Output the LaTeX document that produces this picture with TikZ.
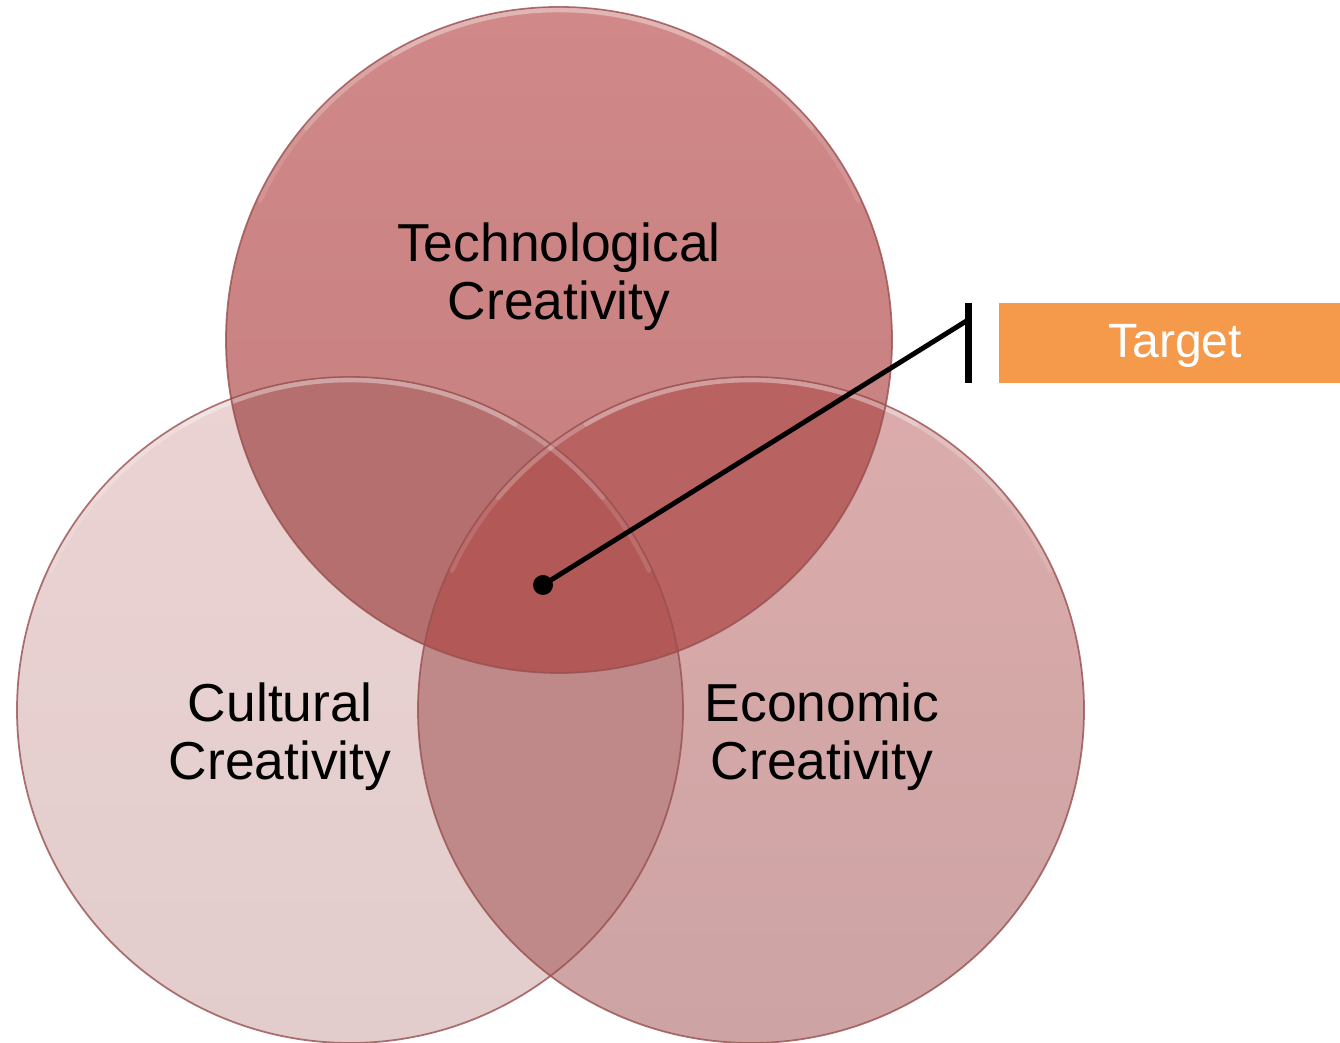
\documentclass[tikz,border=0pt]{standalone}
\usepackage{fontspec}
\setmainfont{Liberation Sans}
\usetikzlibrary{positioning,calc}

\definecolor{techTop}{HTML}{D08988}
\definecolor{techBot}{HTML}{C47E7D}
\definecolor{cultTop}{HTML}{ECD3D3}
\definecolor{cultBot}{HTML}{E2CCCC}
\definecolor{econTop}{HTML}{DCACAC}
\definecolor{econBot}{HTML}{CDA3A3}
\definecolor{techcult}{HTML}{B56F6E}
\definecolor{techecon}{HTML}{B86262}
\definecolor{cultecon}{HTML}{C08989}
\definecolor{allthree}{HTML}{B25857}
\definecolor{rimred}{HTML}{BF6464}
\definecolor{targetorange}{HTML}{F5994A}

\tikzset{
  venntext/.style={align=center, font=\fontsize{15.2}{16.5}\selectfont, inner sep=0pt},
  rimline/.style={draw=rimred!80!black, line width=0.5pt, draw opacity=0.8},
  highlight/.style={draw=white, line width=1.3pt, line cap=round},
  targetbox/.style={fill=targetorange, minimum width=3.41cm, minimum height=0.80cm, inner sep=0pt},
  targettext/.style={text=white, inner sep=0pt, font=\fontsize{13.7}{15}\selectfont},
  hubdot/.style={circle, fill=black, minimum size=0.2cm, inner sep=0pt},
  pointer/.style={line width=1.4pt},
  bracketline/.style={line width=2pt}
}

\begin{document}
\begin{tikzpicture}
		\useasboundingbox (0,0) rectangle (13.40,10.43);

		% Circle centres
		\def\rad{3.33}
		\coordinate (ctech) at (5.59,7.03);
		\coordinate (ccult) at (3.50,3.33);
		\coordinate (cecon) at (7.51,3.33);

		% Single circles
		\shade[top color=cultTop, bottom color=cultBot] (ccult) circle (\rad);
		\shade[top color=econTop, bottom color=econBot] (cecon) circle (\rad);
		\shade[top color=techTop, bottom color=techBot] (ctech) circle (\rad);

		% Pairwise overlaps
		\begin{scope}
			\clip (ccult) circle (\rad);
			\fill[cultecon] (cecon) circle (\rad);
			\fill[techcult] (ctech) circle (\rad);
		\end{scope}
		\begin{scope}
			\clip (cecon) circle (\rad);
			\fill[techecon] (ctech) circle (\rad);
		\end{scope}

		% Centre of all three
		\begin{scope}
			\clip (ccult) circle (\rad);
			\clip (cecon) circle (\rad);
			\fill[allthree] (ctech) circle (\rad);
		\end{scope}

		% Rims with a soft light bevel on top
		\foreach \c in {ccult,cecon,ctech} {
			\draw[rimline] (\c) circle (\rad);
			\foreach \a/\o in {25/0.12,40/0.14,60/0.18} {
				\draw[highlight, draw opacity=\o] ($(\c)+(180-\a:3.30)$) arc (180-\a:\a:3.30);
			}
		}

		% Labels
		\node[venntext] (tech) at (5.59,7.66) {Technological\\Creativity};
		\node[venntext] (cult) at (2.80,3.06) {Cultural\\Creativity};
		\node[venntext] (econ) at (8.22,3.06) {Economic\\Creativity};

		% Target callout
		\node[targetbox] (target) at (11.695,7.00) {};
		\node[targettext] (targetlbl) at ($(target.center)+(0.055,-0.03)$) {Target};
		\coordinate (brtop) at (9.68,7.40);
		\coordinate (brbot) at (9.68,6.60);
		\coordinate (brhit) at (9.68,7.23);
		\draw[bracketline] (brtop) -- (brbot);
		\node[hubdot] (hub) at (5.43,4.58) {};
		\draw[pointer] (hub.center) -- (brhit);
	\end{tikzpicture}
\end{document}
